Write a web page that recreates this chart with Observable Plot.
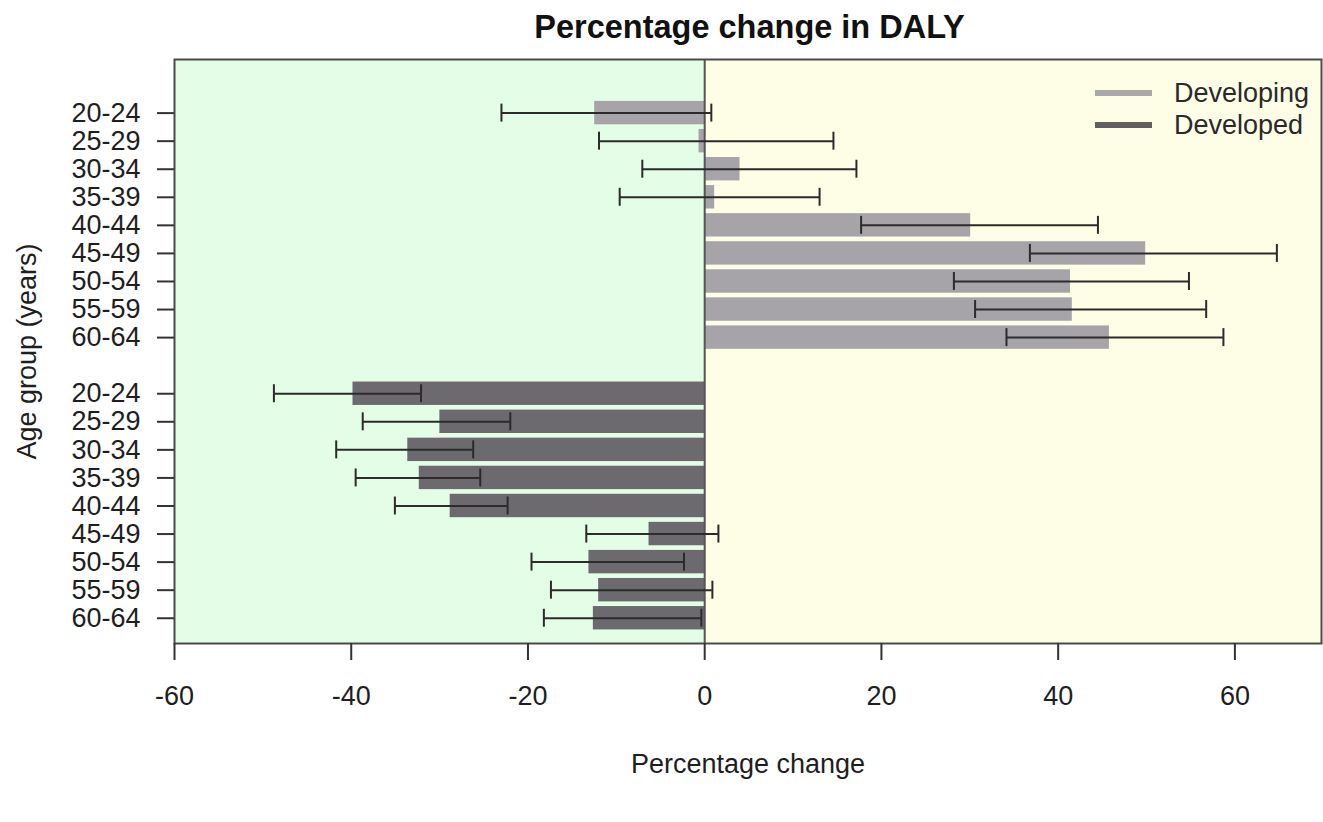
<!DOCTYPE html>
<html>
<head>
<meta charset="utf-8">
<script src="https://cdn.jsdelivr.net/npm/d3@7"></script>
<script src="https://cdn.jsdelivr.net/npm/@observablehq/plot@0.6"></script>
<style>
  html, body { margin: 0; padding: 0; background: #fff; }
  #chart { position: relative; width: 1323px; height: 822px; font-family: "Liberation Sans", Arial, sans-serif; }
  #chart svg { position: absolute; left: 0; top: 0; }
  #legend { position: absolute; left: 1095px; top: 77px; font-size: 27px; color: #2a2a2a; line-height: 1; }
  #legend .item { display: flex; align-items: center; height: 32px; }
  #legend .swatch { width: 57px; height: 6px; margin-right: 22px; }
</style>
</head>
<body>
<div id="chart"><div id="legend"></div></div>
<script>
// Percentage change in DALY by age group, with 95% intervals
const ageGroups = ["20-24", "25-29", "30-34", "35-39", "40-44", "45-49", "50-54", "55-59", "60-64"];

const developingChange = [-12.45, -0.64, 4.0, 1.13, 30.1, 49.9, 41.4, 41.6, 45.8];
const developingLower  = [-23.0, -11.96, -7.06, -9.62, 17.7, 36.8, 28.2, 30.6, 34.15];
const developingUpper  = [0.75, 14.57, 17.17, 13.0, 44.5, 64.75, 54.8, 56.75, 58.7];

const developedChange = [-39.8, -29.97, -33.6, -32.3, -28.8, -6.3, -13.1, -12.0, -12.6];
const developedLower  = [-48.75, -38.7, -41.7, -39.5, -35.06, -13.4, -19.6, -17.4, -18.2];
const developedUpper  = [-32.1, -22.0, -26.2, -25.4, -22.3, 1.55, -2.34, 0.87, -0.38];

const groups = ["Developing", "Developed"];
const groupColors = ["#a6a4a9", "#6c6a6f"];
const legendColors = ["#a9a9a9", "#5f5f5f"];
const xTicks = [-60, -40, -20, 0, 20, 40, 60];

// One row per bar; the developed group starts after one empty slot.
const rows = [
  ...ageGroups.map((age, i) => ({group: "Developing", age, slot: i,
    change: developingChange[i], lo: developingLower[i], hi: developingUpper[i]})),
  ...ageGroups.map((age, i) => ({group: "Developed", age, slot: ageGroups.length + 1 + i,
    change: developedChange[i], lo: developedLower[i], hi: developedUpper[i]}))
];
const slotLabel = new Map(rows.map(d => [d.slot, d.age]));

const xDomain = [-60, 69.8];
const yDomain = [18.9, -1.91];
const halfBar = 0.417;   // half bar thickness, in slots
const halfCap = 0.32;    // half whisker-cap length, in slots
const ink = "#2b2b2b";

const chart = Plot.plot({
  width: 1323,
  height: 822,
  marginLeft: 174,
  marginRight: 2,
  marginTop: 59,
  marginBottom: 179,
  style: {fontFamily: "'Liberation Sans', Arial, sans-serif", fontSize: "27px", color: "#1e1e1e", background: "transparent", overflow: "visible"},
  x: {domain: xDomain},
  y: {domain: yDomain},
  color: {domain: groups, range: groupColors},
  marks: [
    // shaded halves: decrease on the left, increase on the right
    Plot.rect([xDomain], {x1: d => d[0], x2: 0, y1: yDomain[0], y2: yDomain[1], fill: "#e3fde7"}),
    Plot.rect([xDomain], {x1: 0, x2: d => d[1], y1: yDomain[0], y2: yDomain[1], fill: "#fefee6"}),
    Plot.rectX(rows, {x1: 0, x2: "change", y1: d => d.slot - halfBar, y2: d => d.slot + halfBar, fill: "group"}),
    Plot.ruleX([0], {stroke: "#555", strokeWidth: 2}),
    // confidence intervals
    Plot.ruleY(rows, {y: "slot", x1: "lo", x2: "hi", stroke: ink, strokeWidth: 2}),
    Plot.ruleX(rows, {x: "lo", y1: d => d.slot - halfCap, y2: d => d.slot + halfCap, stroke: ink, strokeWidth: 2}),
    Plot.ruleX(rows, {x: "hi", y1: d => d.slot - halfCap, y2: d => d.slot + halfCap, stroke: ink, strokeWidth: 2}),
    Plot.frame({stroke: "#4a4a4a", strokeWidth: 2}),
    Plot.axisX({ticks: xTicks, tickFormat: d => String(d), tickSize: 17, tickPadding: 25, fontSize: 27, stroke: "#333", strokeWidth: 2, label: null}),
    Plot.axisY({ticks: rows.map(d => d.slot), tickFormat: s => slotLabel.get(s), tickSize: 17, tickPadding: 17, fontSize: 27, stroke: "#333", strokeWidth: 2, label: null}),
    Plot.text(["Percentage change in DALY"], {frameAnchor: "top", textAnchor: "middle", dx: 1.5, dy: -31.5, lineAnchor: "middle", fontSize: 32.5, fontWeight: "bold", fill: "#111"}),
    Plot.text(["Percentage change"], {frameAnchor: "bottom", textAnchor: "middle", dy: 120.4, lineAnchor: "middle", fontSize: 27}),
    Plot.text(["Age group (years)"], {frameAnchor: "left", textAnchor: "middle", rotate: -90, dx: -147.6, lineAnchor: "middle", fontSize: 27})
  ]
});

const container = document.getElementById("chart");
container.insertBefore(chart, container.firstChild);

const legend = document.getElementById("legend");
groups.forEach((g, i) => {
  const item = document.createElement("div");
  item.className = "item";
  const sw = document.createElement("span");
  sw.className = "swatch";
  sw.style.background = legendColors[i];
  const label = document.createElement("span");
  label.textContent = g;
  item.appendChild(sw);
  item.appendChild(label);
  legend.appendChild(item);
});
</script>
</body>
</html>
